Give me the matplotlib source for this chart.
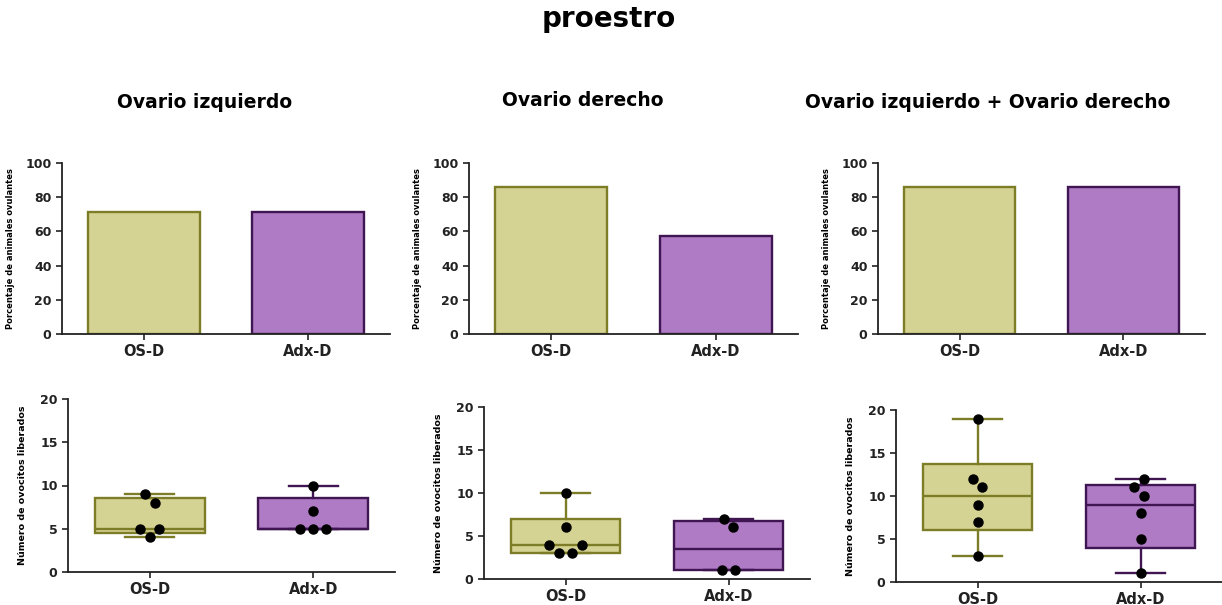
import numpy as np
import matplotlib
matplotlib.use("Agg")
import matplotlib.pyplot as plt

plt.rcParams['font.family'] = ['DejaVu Sans']
plt.rcParams['font.weight'] = 'bold'

# datos
grupos = ['OS-D', 'Adx-D']
titulos = ['Ovario izquierdo', 'Ovario derecho', 'Ovario izquierdo + Ovario derecho']

# porcentaje de animales ovulantes (n = 7 por grupo)
pct_izq = [71.4, 71.4]
pct_der = [85.7, 57.1]
pct_ambos = [85.7, 85.7]

# numero de ovocitos liberados por animal
ovo_izq_os = [9, 8, 5, 5, 4]
ovo_izq_adx = [10, 7, 5, 5, 5]
ovo_der_os = [10, 6, 4, 4, 3, 3]
ovo_der_adx = [7, 6, 1, 1]
ovo_ambos_os = [19, 12, 11, 9, 7, 3]
ovo_ambos_adx = [12, 11, 10, 8, 5, 1]

porcentajes = [pct_izq, pct_der, pct_ambos]
ovocitos = [[ovo_izq_os, ovo_izq_adx],
            [ovo_der_os, ovo_der_adx],
            [ovo_ambos_os, ovo_ambos_adx]]

relleno = ['#d5d393', '#ae7bc4']
borde = ['#7d7d28', '#3f1552']
eje = '#222222'

W, H = 1222, 605
fig = plt.figure(figsize=(W / 100, H / 100), dpi=100)


def nuevo_eje(x0, y0, x1, y1):
    # caja en pixeles (origen arriba a la izquierda)
    return fig.add_axes([x0 / W, 1 - y1 / H, (x1 - x0) / W, (y1 - y0) / H])


def estilo(ax, ymax, paso, ylabel, lab_x, lab_size):
    for s in ['top', 'right']:
        ax.spines[s].set_visible(False)
    for s in ['left', 'bottom']:
        ax.spines[s].set_linewidth(1.3)
        ax.spines[s].set_color(eje)
    ax.set_xlim(-0.5, 1.5)
    ax.set_ylim(0, ymax)
    ax.set_yticks(np.arange(0, ymax + 1, paso))
    ax.set_xticks([0, 1])
    ax.tick_params(direction='out', length=4, width=1.2, colors=eje)
    ax.tick_params(axis='y', labelsize=9)
    ax.tick_params(axis='x', labelsize=10.5)
    ax.set_xticklabels(grupos, fontweight='bold')
    ax.set_ylabel(ylabel, fontsize=lab_size, fontweight='bold')
    ax.yaxis.set_label_coords(lab_x, 0.5)


def enjambre(ax, x0, vals, d=13.0):
    # reparte los puntos a los lados cuando se solapan (en pixeles)
    puestos = []
    for v in sorted(vals):
        px, py = ax.transData.transform((x0, v))
        cand = [0.0]
        for qx, qy in puestos:
            dy = abs(qy - py)
            if dy < d:
                r = np.sqrt(d ** 2 - dy ** 2)
                cand += [qx + r, qx - r]
        cand.sort(key=lambda c: (abs(c), c))
        for c in cand:
            if all((c - qx) ** 2 + (qy - py) ** 2 >= d ** 2 - 1e-6
                   for qx, qy in puestos):
                break
        puestos.append((c, py))
    # centrar cada grupo de puntos que se tocan
    n = len(puestos)
    grupo = list(range(n))

    def raiz(k):
        while grupo[k] != k:
            k = grupo[k]
        return k
    for a in range(n):
        for b in range(a + 1, n):
            (ax_, ay), (bx, by) = puestos[a], puestos[b]
            if np.hypot(ax_ - bx, ay - by) < d * 1.05:
                grupo[raiz(b)] = raiz(a)
    dx = np.array([p[0] for p in puestos])
    ids = np.array([raiz(k) for k in range(n)])
    for g in set(ids):
        dx[ids == g] -= dx[ids == g].mean()
    cx, _ = ax.transData.transform((x0, 0))
    out = [ax.transData.inverted().transform((cx + dx[k], puestos[k][1]))
           for k in range(n)]
    out = np.array(out)
    return out[:, 0], out[:, 1]


fig.text(609 / W, 1 - 19 / H, 'proestro', ha='center', va='center',
         fontsize=20, fontweight='bold')
for t, cx, cy in zip(titulos, [205, 583, 988], [102, 100, 103]):
    fig.text(cx / W, 1 - cy / H, t, ha='center', va='center',
             fontsize=13.5, fontweight='bold')

# fila superior: barras
cajas_sup = [(62, 163, 390, 334), (469, 163, 798, 334), (878, 163, 1205, 334)]
for caja, pct in zip(cajas_sup, porcentajes):
    ax = nuevo_eje(*caja)
    ax.bar([0, 1], pct, width=0.68, color=relleno, edgecolor=borde,
           linewidth=1.7, zorder=2)
    estilo(ax, 100, 20, 'Porcentaje de animales ovulantes', -0.143, 6)

# fila inferior: cajas y bigotes (min-max) con los puntos
cajas_inf = [(68, 399, 395, 572), (484, 407, 810, 579), (896, 410, 1222, 582)]
for caja, series in zip(cajas_inf, ovocitos):
    ax = nuevo_eje(*caja)
    for i, vals in enumerate(series):
        q1, med, q3 = np.percentile(vals, [25, 50, 75], method='weibull')
        st = dict(med=med, q1=q1, q3=q3, whislo=min(vals), whishi=max(vals),
                  fliers=[])
        lw = 1.7
        ax.bxp([st], positions=[i], widths=0.67, capwidths=0.3,
               patch_artist=True, showfliers=False,
               boxprops=dict(facecolor=relleno[i], edgecolor=borde[i], linewidth=lw),
               medianprops=dict(color=borde[i], linewidth=lw),
               whiskerprops=dict(color=borde[i], linewidth=lw),
               capprops=dict(color=borde[i], linewidth=lw),
               manage_ticks=False)
    estilo(ax, 20, 5, 'Número de ovocitos liberados', -0.125, 6.8)
    for i, vals in enumerate(series):
        px, py = enjambre(ax, i, vals)
        ax.plot(px, py, 'o', color='black', markersize=6.5, zorder=5,
                clip_on=False)

fig.savefig('out.png', dpi=100)
